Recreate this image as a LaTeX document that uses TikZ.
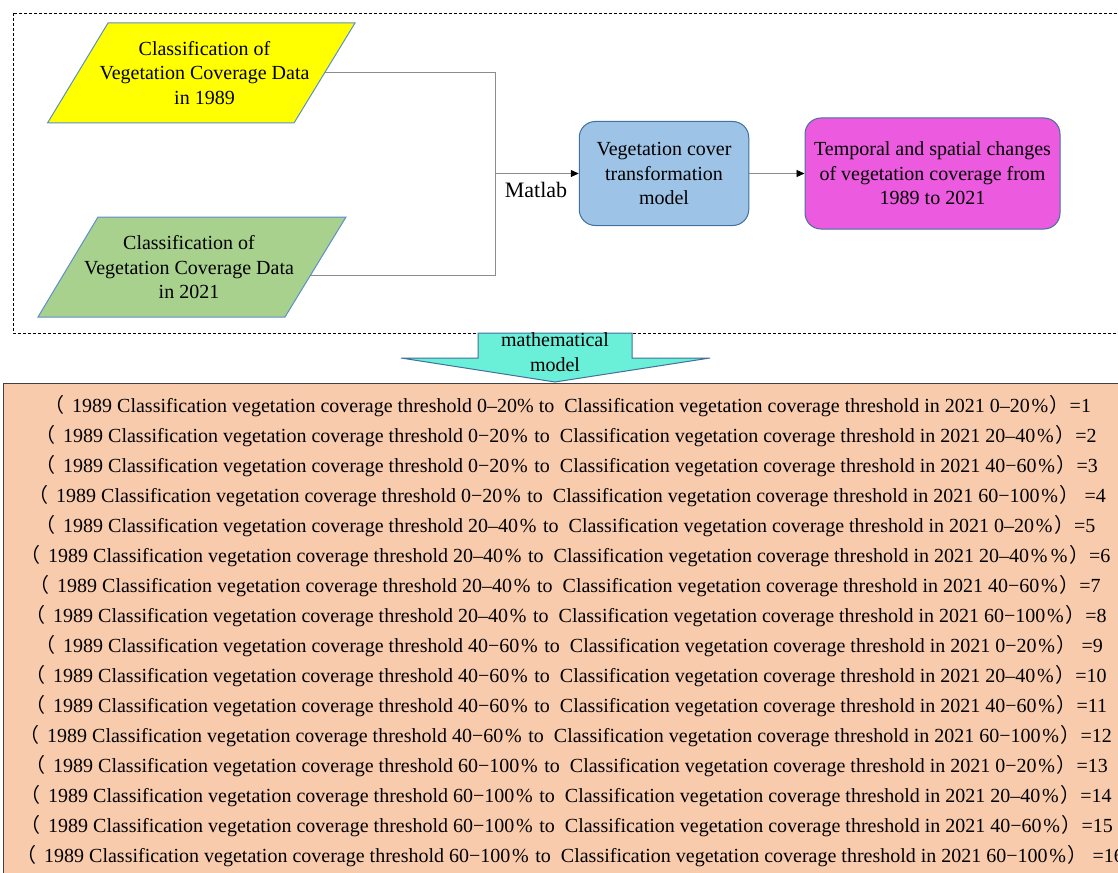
\documentclass[tikz,border=0pt]{standalone}
\usepackage{fontspec}
\setmainfont{Liberation Serif}
\newfontfamily\cjk{Noto Sans CJK SC}
\usetikzlibrary{arrows.meta}
\newcommand\pc{\makebox[1em]{\%}}
\newcommand\lp{\llap{{\cjk （}\hspace{8pt}}}
\newcommand\rp{{\cjk ）}}
\newcommand\cv{Classification vegetation coverage threshold}
\definecolor{yel}{HTML}{FFFF00}
\definecolor{grn}{HTML}{A9D18E}
\definecolor{blu}{HTML}{9DC3E6}
\definecolor{mag}{HTML}{EC5ADF}
\definecolor{aqua}{HTML}{6AEFD9}
\definecolor{orng}{HTML}{F8CBAD}
\definecolor{edge}{HTML}{41719C}
\definecolor{pedge}{HTML}{5B8FC9}
\begin{document}
\begin{tikzpicture}[x=1pt,y=-1pt,
  para/.style={draw=pedge, line width=1pt},
  txt/.style={font=\fontsize{20}{24.5}\selectfont, align=center, inner sep=0pt},
  conn/.style={draw=black!45, line width=0.8pt},
  arr/.style={conn, -{Triangle[length=8pt,width=7pt,black]}},
  rbox/.style={draw=edge, line width=1pt, rounded corners=16pt, inner sep=0pt,
    font=\fontsize{20}{24.5}\selectfont, align=center},
  row/.style={anchor=base west, inner sep=0pt, font=\fontsize{20}{24}\selectfont}]
\useasboundingbox (0,0) rectangle (1118,872);
\clip (0,0) rectangle (1118,872);
\fill[white] (0,0) rectangle (1118,872);

% dashed frame
\draw[line width=0.8pt, dash pattern=on 3pt off 2pt] (13,13) rectangle (1125,333);

% input parallelograms
\draw[para, fill=yel] (108,23) -- (355,23) -- (294,123) -- (47.5,123) -- cycle;
\node[txt] (d89) at (204.5,73) {Classification of\\Vegetation Coverage Data\\in 1989};
\draw[para, fill=grn] (98,217) -- (346,217) -- (285,317) -- (38,317) -- cycle;
\node[txt] (d21) at (189,267.5) {Classification of\\Vegetation Coverage Data\\in 2021};

% model boxes
\node[rbox, fill=blu, minimum width=169.5pt, minimum height=104pt] (model) at (664,173.5)
  {Vegetation cover\\transformation\\model};
\node[rbox, fill=mag, minimum width=255pt, minimum height=111pt] (result) at (932.5,173.5)
  {Temporal and spatial changes\\of vegetation coverage from\\1989 to 2021};

% connectors
\coordinate (c89) at (325,72);
\coordinate (c21) at (311,275);
\coordinate (t) at (495,72);
\coordinate (b) at (495,275);
\coordinate (j) at (495,173.5);
\draw[conn] (c89) -- (t) -- (b) -- (c21);
\draw[arr] (j) -- (model.west);
\draw[arr] (model.east) -- (result.west);
\node[font=\fontsize{22}{26}\selectfont, inner sep=0pt] (matlab) at (536,190) {Matlab};

% table box
\draw[draw=black!75, line width=0.8pt, fill=orng] (3,383) rectangle (1135,890);

% mathematical model arrow
\draw[draw=edge, line width=1pt, fill=aqua] (478,333) -- (632,333) -- (632,358) -- (710,358)
  -- (555,382) -- (401,358) -- (478,358) -- cycle;
\node[txt] (mm) at (555,352) {mathematical\\model};

% rows
\node[row] (r1) at (72,412.5) {\lp 1989 \cv{} 0–20\% to\ \ \cv{} in 2021 0–20\pc\rp=1};
\node[row] (r2) at (63,442.5) {\lp 1989 \cv{} 0−20\pc\ to\ \ \cv{} in 2021 20–40\pc\rp=2};
\node[row] (r3) at (63,472.5) {\lp 1989 \cv{} 0−20\pc\ to\ \ \cv{} in 2021 40−60\pc\rp=3};
\node[row] (r4) at (56,502.5) {\lp 1989 \cv{} 0−20\pc\ to\ \ \cv{} in 2021 60−100\pc\rp\ =4};
\node[row] (r5) at (63,532.5) {\lp 1989 \cv{} 20–40\pc\ to\ \ \cv{} in 2021 0–20\pc\rp=5};
\node[row] (r6) at (48,562.5) {\lp 1989 \cv{} 20–40\pc\ to\ \ \cv{} in 2021 20–40\pc\pc\rp=6};
\node[row] (r7) at (57,592.5) {\lp 1989 \cv{} 20–40\pc\ to\ \ \cv{} in 2021 40−60\pc\rp=7};
\node[row] (r8) at (53,622.5) {\lp 1989 \cv{} 20–40\pc\ to\ \ \cv{} in 2021 60−100\pc\rp=8};
\node[row] (r9) at (63,652.5) {\lp 1989 \cv{} 40−60\pc\ to\ \ \cv{} in 2021 0−20\pc\rp\ =9};
\node[row] (r10) at (53,682.5) {\lp 1989 \cv{} 40−60\pc\ to\ \ \cv{} in 2021 20–40\pc\rp=10};
\node[row] (r11) at (53,712.5) {\lp 1989 \cv{} 40−60\pc\ to\ \ \cv{} in 2021 40−60\pc\rp=11};
\node[row] (r12) at (47,742.5) {\lp 1989 \cv{} 40−60\pc\ to\ \ \cv{} in 2021 60−100\pc\rp=12};
\node[row] (r13) at (53,772.5) {\lp 1989 \cv{} 60−100\pc\ to\ \ \cv{} in 2021 0−20\pc\rp=13};
\node[row] (r14) at (48,802.5) {\lp 1989 \cv{} 60−100\pc\ to\ \ \cv{} in 2021 20–40\pc\rp=14};
\node[row] (r15) at (48,832.5) {\lp 1989 \cv{} 60−100\pc\ to\ \ \cv{} in 2021 40−60\pc\rp=15};
\node[row] (r16) at (44,862.5) {\lp 1989 \cv{} 60−100\pc\ to\ \ \cv{} in 2021 60−100\pc\rp\ =16};
\end{tikzpicture}
\end{document}
